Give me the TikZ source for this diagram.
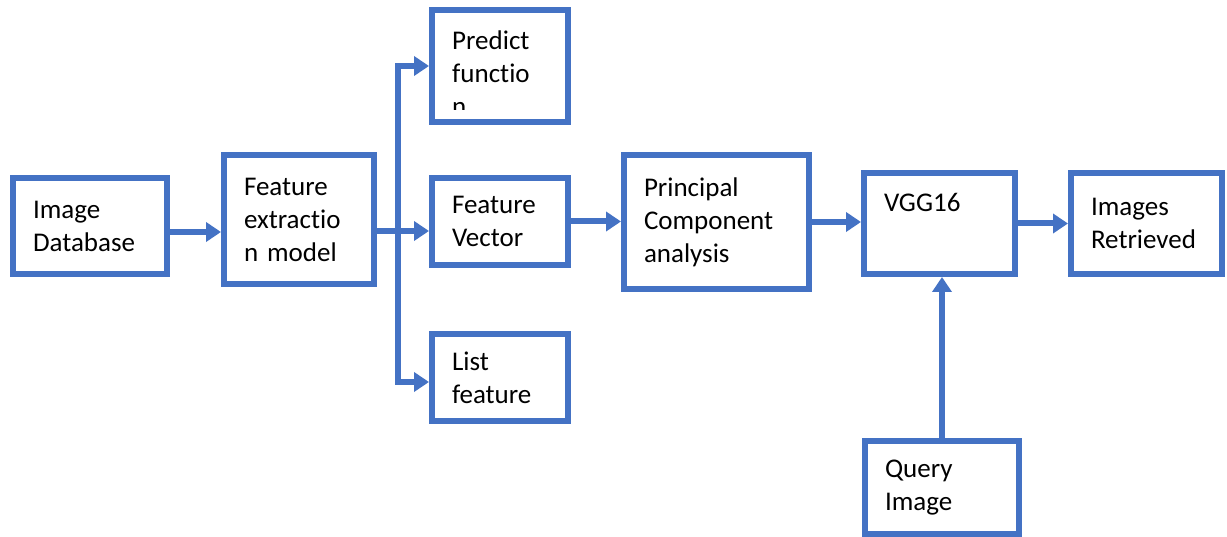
\documentclass[tikz,border=0pt]{standalone}
\usepackage{fontspec}
\setmainfont{Carlito}[Ligatures=NoCommon]
\usetikzlibrary{arrows.meta}
\definecolor{boxblue}{RGB}{68,114,196}
\tikzset{
    block/.style = {
        draw = boxblue,
        line width = 6pt,
        fill = white,
        align = left,
        inner xsep = 20pt,
        inner ysep = 2pt,
        font = \fontsize{27}{33}\selectfont,
        },
    blocktext/.style = {
        align = left,
        inner sep = 0pt,
        font = \fontsize{27}{33}\selectfont,
        },
    link/.style = {
        draw = boxblue,
        line width = 6pt,
        },
    flow/.style = {
        link,
        -{Triangle[length=15pt,width=19pt]},
        },
}
\begin{document}
\begin{tikzpicture}[x=1pt, y=-1pt]
            \useasboundingbox (0,0) rectangle (1227,537);

            \node[block, minimum width=154pt, minimum height=96pt, text width=114pt] (db) at (90,226) {Image\\Database};
            \node[block, minimum width=150pt, minimum height=129pt, text width=110pt] (fem) at (299,219.5) {Feature\\extractio\\n model};
            \node[block, minimum width=136pt, minimum height=112pt] (pred) at (500,66) {};
            \node[block, minimum width=136pt, minimum height=87pt, text width=96pt] (fvec) at (500,221.5) {Feature\\Vector};
            \node[block, minimum width=136pt, minimum height=87pt, text width=96pt] (list) at (500,377.5) {List\\feature};
            \node[block, minimum width=185pt, minimum height=134pt, text width=145pt] (pca) at (716.5,222) {Principal\\Component\\analysis};
            \node[block, minimum width=151pt, minimum height=101pt, text width=111pt] (vgg) at (939.5,223.5) {VGG16\\[9pt]\mbox{}};
            \node[block, minimum width=151pt, minimum height=101pt, text width=111pt] (ret) at (1146.5,223.5) {Images\\Retrieved};
            \node[block, minimum width=154pt, minimum height=93pt, text width=114pt] (query) at (942,487.5) {Query\\Image};

            % the last line of this box runs past its bottom
            \begin{scope}
                \clip ([shift={(3pt,-3pt)}]pred.north west) rectangle ([yshift=15pt]pred.south east);
                \node[blocktext, anchor=north west] (predtext) at ([shift={(23pt,-24pt)}]pred.north west) {Predict\\functio\\n};
            \end{scope}

            \coordinate (fork) at (398,231);

            \draw[flow] ([yshift=-6pt]db.east) -- ([yshift=-6pt]db.east -| fem.west);
            \draw[link] ([yshift=-11.5pt]fem.east) -- (fork);
            \draw[flow] (fork) |- (pred.west);
            \draw[flow] (fork) -- (fork -| fvec.west);
            \draw[flow] (fork) |- ([yshift=-4.5pt]list.west);
            \draw[flow] (fvec.east) -- (fvec.east -| pca.west);
            \draw[flow] (pca.east) -- (pca.east -| vgg.west);
            \draw[flow] (vgg.east) -- (vgg.east -| ret.west);
            \draw[flow] (query.north) -- (query.north |- vgg.south);
        \end{tikzpicture}
\end{document}
